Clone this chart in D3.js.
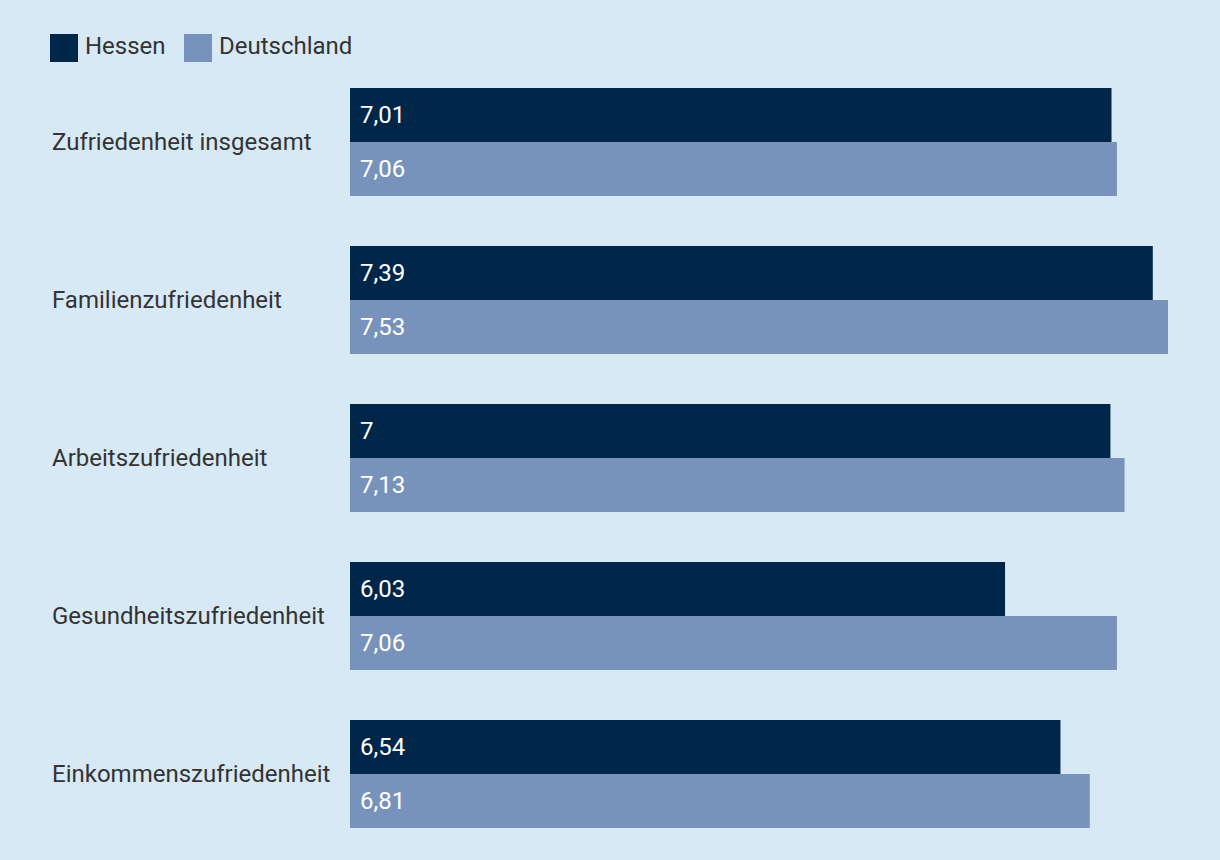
<!DOCTYPE html>
<html><head><meta charset="utf-8">
<script src="https://cdn.jsdelivr.net/npm/d3@7"></script>
<style>html,body{margin:0;padding:0;background:#d7e9f5;}svg{display:block;}</style>
</head><body>
<svg id="c" width="1220" height="860"></svg>
<script>
const categories = ["Zufriedenheit insgesamt","Familienzufriedenheit","Arbeitszufriedenheit","Gesundheitszufriedenheit","Einkommenszufriedenheit"];
const seriesNames = ["Hessen","Deutschland"];
const hessen = [7.01, 7.39, 7.00, 6.03, 6.54];
const deutschland = [7.06, 7.53, 7.13, 7.06, 6.81];
const labelsHessen = ["7,01","7,39","7","6,03","6,54"];
const labelsDeutschland = ["7,06","7,53","7,13","7,06","6,81"];
const colors = ["#00264a","#7893bb"];

const svg = d3.select("#c");
svg.append("rect").attr("width",1220).attr("height",860).attr("fill","#d7e9f5");
const font = "Roboto, 'Noto Sans', sans-serif";
const fs = 24;

const x = d3.scaleLinear().domain([0, 7.53]).range([350, 1168]);
const y0 = d3.scaleBand().domain(categories).range([88, 828]).paddingInner(50/158).paddingOuter(0);
const y1 = d3.scaleBand().domain(seriesNames).range([0, y0.bandwidth()]);

const data = [hessen, deutschland];
const labels = [labelsHessen, labelsDeutschland];

// legend
const leg = svg.append("g");
const legX = [50, 184];
seriesNames.forEach((s,i)=>{
  leg.append("rect").attr("x",legX[i]).attr("y",34).attr("width",28).attr("height",28).attr("fill",colors[i]);
  leg.append("text").attr("x",legX[i]+35).attr("y",46).attr("dy","0.35em")
    .attr("font-family",font).attr("font-size",fs).attr("fill","#333").text(s);
});

categories.forEach((c,ci)=>{
  const g = svg.append("g").attr("transform",`translate(0,${y0(c)})`);
  g.append("text").attr("x",52).attr("y",y0.bandwidth()/2).attr("dy","0.35em")
    .attr("font-family",font).attr("font-size",fs).attr("fill","#333").text(c);
  seriesNames.forEach((s,si)=>{
    g.append("rect").attr("x",x(0)).attr("y",y1(s)).attr("width",x(data[si][ci])-x(0)).attr("height",y1.bandwidth()).attr("fill",colors[si]);
    g.append("text").attr("x",x(0)+10).attr("y",y1(s)+y1.bandwidth()/2).attr("dy","0.35em")
      .attr("font-family",font).attr("font-size",fs).attr("fill","#fff").text(labels[si][ci]);
  });
});
</script>
</body></html>
